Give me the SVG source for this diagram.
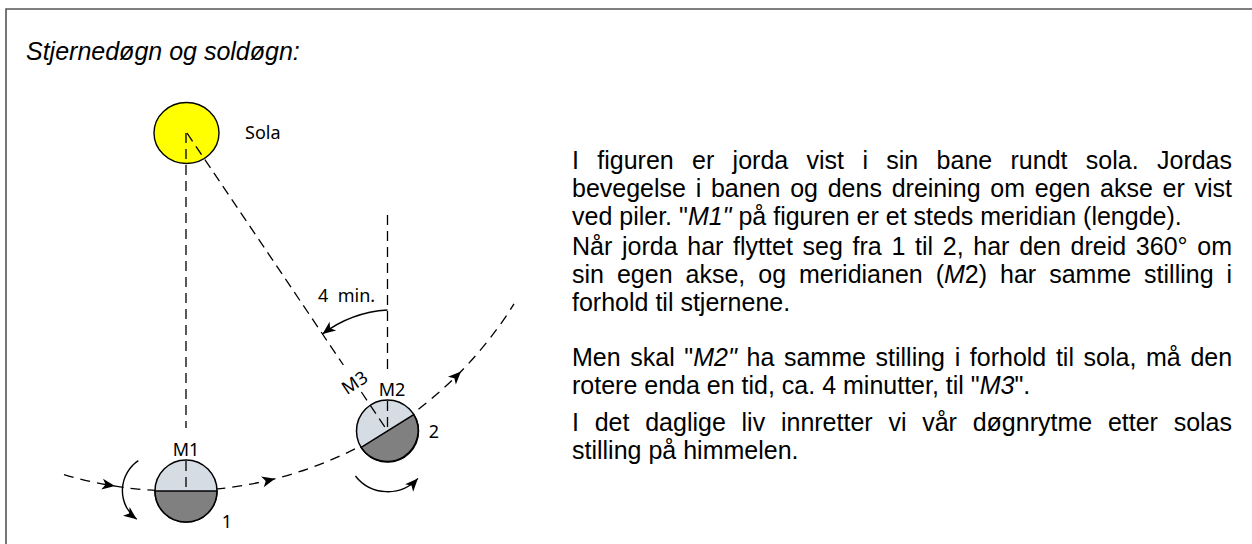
<svg xmlns="http://www.w3.org/2000/svg" xmlns:xlink="http://www.w3.org/1999/xlink" width="1252" height="544" viewBox="0 0 1252 544">
  <style>
    .frame { fill: none; stroke: #555555; stroke-width: 1.6; }
    .title { font-family: "Liberation Sans", Arial, sans-serif; font-style: italic; font-size: 25px; fill: #000; }
    .body { font-family: "Liberation Sans", Arial, sans-serif; font-size: 25px; fill: #000; }
    .it { font-style: italic; }
    .lbl { font-family: "Noto Sans", "Open Sans", sans-serif; font-size: 18px; fill: #000; }
    .dash { fill: none; stroke: #000; stroke-width: 1.3; stroke-dasharray: 10 6; }
    .orbit { fill: none; stroke: #000; stroke-width: 1.3; stroke-dasharray: 10 7; }
    .rot { fill: none; stroke: #000; stroke-width: 1.4; marker-end: url(#head); }
    .day { fill: #d6dce4; stroke: #000; stroke-width: 1.5; }
    .night { fill: #808080; stroke: #000; stroke-width: 1.5; }
    .sun { fill: #ffff00; stroke: #000; stroke-width: 1.4; }
  </style>
  <defs>
    <marker id="head" viewBox="-14 -7 16 14" refX="0" refY="0" markerWidth="16" markerHeight="14" markerUnits="userSpaceOnUse" orient="auto">
      <path d="M0,0 L-13,-5.5 L-9.5,0 L-13,5.5 Z" fill="#000"/>
    </marker>
    <path id="ah" d="M0,0 L-13,-5.5 L-9.5,0 L-13,5.5 Z" fill="#000"/>
  </defs>

  <rect width="1252" height="544" fill="#ffffff"/>
  <!-- frame: only top and left edges fall inside the canvas -->
  <path class="frame" d="M6,544 V9 H1252"/>

  <text class="title" x="26" y="60">Stjernedøgn og soldøgn:</text>

  <!-- orbit of the earth, drawn beneath the earth discs -->
  <g id="orbit">
    <path class="orbit" d="M64,474.6 A397,397 0 0 0 514,303.9"/>
    <use xlink:href="#ah" transform="translate(115,486.1) rotate(9)"/>
    <use xlink:href="#ah" transform="translate(275,478.7) rotate(-14.3)"/>
    <use xlink:href="#ah" transform="translate(461,371.4) rotate(-45.7)"/>
  </g>

  <g id="sun">
    <ellipse class="sun" cx="186.5" cy="133" rx="32.5" ry="30.5"/>
    <text class="lbl" x="245" y="139">Sola</text>
  </g>

  <g id="earth1">
    <circle class="day" cx="186" cy="491" r="31"/>
    <path class="night" d="M155,491 L217,491 A31,31 0 0 1 155,491 Z"/>
    <text class="lbl" x="186" y="456" text-anchor="middle">M1</text>
    <text class="lbl" x="227" y="528" text-anchor="middle">1</text>
  </g>

  <g id="earth2">
    <circle class="day" cx="387.5" cy="431" r="31"/>
    <path class="night" d="M361.2,447.4 L413.8,414.6 A31,31 0 0 1 361.2,447.4 Z"/>
    <text class="lbl" x="392" y="396" text-anchor="middle">M2</text>
    <text class="lbl" x="354.5" y="389" text-anchor="middle" transform="rotate(-34 354.5 382.5)">M3</text>
    <text class="lbl" x="434" y="438" text-anchor="middle">2</text>
  </g>

  <g id="connectors">
    <!-- meridian M1 towards the sun -->
    <line class="dash" x1="186" y1="133" x2="186" y2="428"/>
    <line class="dash" x1="186" y1="461" x2="186" y2="491"/>
    <!-- meridian M2, parallel to M1 -->
    <line class="dash" x1="387.5" y1="215" x2="387.5" y2="370"/>
    <line class="dash" x1="387.5" y1="401" x2="387.5" y2="431"/>
    <!-- line M3 from the sun to the earth at position 2 -->
    <line class="dash" x1="187" y1="133" x2="343.4" y2="365"/>
    <line class="dash" x1="361.4" y1="392" x2="387.5" y2="431"/>
    <!-- extra rotation of about 4 minutes -->
    <path class="rot" d="M387.5,310 A120,120 0 0 0 322.5,334"/>
    <text class="lbl" x="318" y="302">4&#160; min.</text>
    <!-- spin of the earth about its own axis -->
    <path class="rot" d="M138.3,460.7 A36,36 0 0 0 136.7,519.3"/>
    <path class="rot" d="M355.4,476 A41,41 0 0 0 417.9,478.4"/>
  </g>

  <g id="description">
    <text class="body" x="572" y="169" word-spacing="11.39">I figuren er jorda vist i sin bane rundt sola. Jordas</text>
    <text class="body" x="572" y="197" word-spacing="2.77">bevegelse i banen og dens dreining om egen akse er vist</text>
    <text class="body" x="572" y="225">ved piler. "<tspan class="it">M1"</tspan> på figuren er et steds meridian (lengde).</text>

    <text class="body" x="572" y="255" word-spacing="2.75">Når jorda har flyttet seg fra 1 til 2, har den dreid 360° om</text>
    <text class="body" x="572" y="283" word-spacing="6.03">sin egen akse, og meridianen (<tspan class="it">M</tspan>2) har samme stilling i</text>
    <text class="body" x="572" y="311">forhold til stjernene.</text>

    <text class="body" x="572" y="366" word-spacing="2.69">Men skal "<tspan class="it">M2"</tspan> ha samme stilling i forhold til sola, må den</text>
    <text class="body" x="572" y="394">rotere enda en tid, ca. 4 minutter, til "<tspan class="it">M3</tspan>".</text>

    <text class="body" x="572" y="431" word-spacing="8.8">I det daglige liv innretter vi vår døgnrytme etter solas</text>
    <text class="body" x="572" y="459">stilling på himmelen.</text>
  </g>
</svg>
